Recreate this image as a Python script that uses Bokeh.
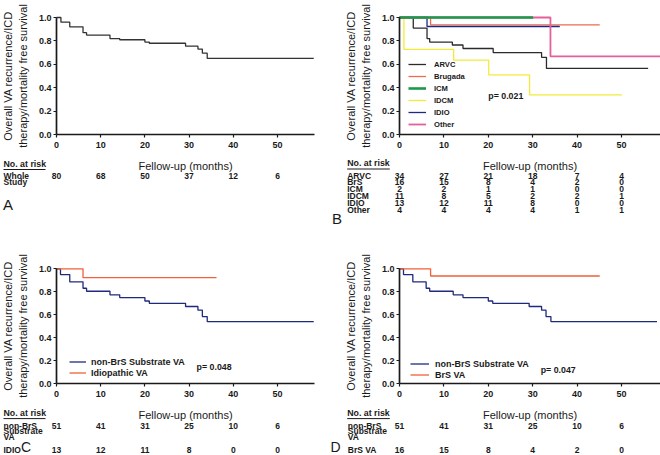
from bokeh.plotting import figure
from bokeh.layouts import column, row
from bokeh.models import (Range1d, FixedTicker, PrintfTickFormatter, Legend, LegendItem,
                          LinearAxis)
from bokeh.core.properties import value
from bokeh.embed import file_html
from bokeh.resources import INLINE

FONT = "Liberation Sans"
INK = "#1a1a1a"

# ---------------- data ----------------
x_ticks = [0, 10, 20, 30, 40, 50]
y_ticks = [0.0, 0.2, 0.4, 0.6, 0.8, 1.0]

# Panel A: whole study
whole_t = [0, 1.0, 3.0, 6.0, 6.8, 12.1, 14.3, 20.0, 21.0, 29.2, 32.0, 33.0, 34.1]
whole_s = [1.0, 0.96, 0.92, 0.87, 0.85, 0.82, 0.81, 0.79, 0.78, 0.755, 0.73, 0.695, 0.65]
whole_end = 58.2
whole_risk = [80, 68, 50, 37, 12, 6]

# Panel B: by aetiology
arvc_t = [0, 3.1, 6.2, 6.8, 11.9, 14.3, 21.1, 32.0, 33.1]
arvc_s = [1.0, 0.91, 0.82, 0.79, 0.765, 0.735, 0.70, 0.66, 0.565]
arvc_end = 56.0
brug_t = [0, 7.0]
brug_s = [1.0, 0.9375]
brug_end = 45.1
icm_t = [0]
icm_s = [1.0]
icm_end = 30.1
idcm_t = [0, 1.0, 12.2, 20.1, 29.3]
idcm_s = [1.0, 0.727, 0.636, 0.509, 0.339]
idcm_end = 50.1
idio_t = [0, 6.2]
idio_s = [1.0, 0.923]
idio_end = 36.1
other_t = [0, 34.0]
other_s = [1.0, 0.667]
other_end = 58.8

groups_b = ["ARVC", "BrS", "ICM", "IDCM", "IDIO", "Other"]
risk_b = [[34, 27, 21, 18, 7, 4],
          [16, 15, 8, 4, 2, 0],
          [2, 2, 1, 1, 0, 0],
          [11, 8, 5, 2, 2, 1],
          [13, 12, 11, 8, 0, 0],
          [4, 4, 4, 4, 1, 1]]

# Panels C and D
nonbrs_t = [0, 0.9, 3.0, 6.0, 6.8, 12.1, 14.3, 20.0, 21.0, 29.2, 32.0, 33.0, 34.1]
nonbrs_s = [1.0, 0.95, 0.887, 0.831, 0.805, 0.774, 0.75, 0.72, 0.70, 0.672, 0.64, 0.585, 0.541]
nonbrs_end_c = 58.2
nonbrs_end_d = 58.0
idiova_t = [0, 6.0]
idiova_s = [1.0, 0.923]
idiova_end = 36.2
brsva_t = [0, 7.0]
brsva_s = [1.0, 0.9375]
brsva_end = 45.1
risk_nonbrs = [51, 41, 31, 25, 10, 6]
risk_idio = [13, 12, 11, 8, 0, 0]
risk_brsva = [16, 15, 8, 4, 2, 0]


# ---------------- helpers ----------------
class Panel:
    """One panel: frame covers the whole figure, axes fixed at the data origin."""

    def __init__(self, w, h, ox, oy, pxm, pyu, x_end):
        self.pxm, self.pyu = pxm, pyu
        self.w, self.h, self.ox, self.oy = w, h, ox, oy
        p = figure(width=w, height=h,
                   x_range=Range1d(-ox / pxm, (w - ox) / pxm),
                   y_range=Range1d(-(h - oy) / pyu, oy / pyu),
                   x_axis_location=None, y_axis_location=None,
                   output_backend="svg", toolbar_location=None,
                   min_border=0)
        p.outline_line_color = None
        p.xgrid.visible = False
        p.ygrid.visible = False
        p.background_fill_color = "white"
        p.border_fill_color = "white"
        xa = LinearAxis(fixed_location=0, bounds=(0, x_end),
                        ticker=FixedTicker(ticks=x_ticks),
                        axis_label="Fellow-up (months)")
        ya = LinearAxis(fixed_location=0, bounds=(0, 1),
                        ticker=FixedTicker(ticks=y_ticks),
                        formatter=PrintfTickFormatter(format="%.1f"),
                        axis_label="Overall VA recurrence/ICD\ntherapy/mortality free survival")
        for ax in (xa, ya):
            ax.axis_line_width = 1.7
            ax.axis_line_color = INK
            ax.major_tick_line_color = INK
            ax.major_tick_line_width = 1.2
            ax.major_tick_out = 3
            ax.major_tick_in = 0
            ax.minor_tick_line_color = None
            ax.major_label_text_font = FONT
            ax.major_label_text_font_style = "bold"
            ax.major_label_text_font_size = "9px"
            ax.major_label_text_color = INK
            ax.axis_label_text_font = FONT
            ax.axis_label_text_font_style = "normal"
            ax.axis_label_text_font_size = "11px"
            ax.axis_label_text_color = INK
        xa.major_label_standoff = 4
        xa.axis_label_standoff = 9
        ya.major_label_standoff = 2
        ya.axis_label_standoff = 7
        ya.axis_label_text_line_height = 1.25
        p.add_layout(xa, "below")
        p.add_layout(ya, "left")
        self.p = p

    def X(self, ref_px):          # px right of the y axis -> months
        return ref_px / self.pxm

    def Y(self, ref_px_below):    # px below the x axis -> survival units
        return -ref_px_below / self.pyu

    def km(self, t, s, end, color, width=1.3):
        xs = list(t) + [end]
        ys = list(s) + [s[-1]]
        return self.p.step(x=xs, y=ys, mode="after", line_color=color, line_width=width)

    def txt(self, text, x, y, size, bold=True, align="left"):
        self.p.text(x=[x], y=[y], text=[text], text_font=value(FONT),
                    text_font_size=value(size),
                    text_font_style="bold" if bold else "normal",
                    text_align=align, text_baseline="middle", text_color=INK)

    def underline(self, x0, x1, y):
        self.p.line(x=[x0, x1], y=[y, y], line_color=INK, line_width=1)

    def legend(self, items, dx, dy, gw, gh, standoff, size):
        leg = Legend(items=[LegendItem(label=l, renderers=[r]) for l, r in items],
                     location=(round(self.ox + dx), round((self.h - self.oy) + dy)),
                     padding=0, margin=0, spacing=0,
                     glyph_width=gw, glyph_height=gh, label_height=gh,
                     label_standoff=standoff, border_line_color=None,
                     background_fill_alpha=0,
                     label_text_font=FONT, label_text_font_style="bold",
                     label_text_font_size=size, label_text_color=INK)
        self.p.add_layout(leg)


TAB = "8.5px"
NAR = "8.8px"
LET = "15px"

# ---------------- Panel A ----------------
A = Panel(330, 236, 56, 134, 4.42, 117, 58.4)
A.km(whole_t, whole_s, whole_end, "#333333")
A.txt("No. at risk", A.X(-53), A.Y(29), NAR)
A.underline(A.X(-53), A.X(-11), A.Y(35))
A.txt("Whole", A.X(-53), A.Y(41), TAB)
A.txt("Study", A.X(-53), A.Y(47.5), TAB)
for m, v in zip(x_ticks, whole_risk):
    A.txt(str(v), m, A.Y(41), TAB, align="center")
A.txt("A", A.X(-53.5), A.Y(69.5), LET, bold=False)

# ---------------- Panel B ----------------
B = Panel(330, 236, 69, 134, 4.44, 117, 58.8)
r_arvc = B.km(arvc_t, arvc_s, arvc_end, "#2b2b2b")
r_brug = B.km(brug_t, brug_s, brug_end, "#ee6a50")
r_idcm = B.km(idcm_t, idcm_s, idcm_end, "#f2ea3a")
r_idio = B.km(idio_t, idio_s, idio_end, "#1c2a80")
r_other = B.km(other_t, other_s, other_end, "#e5609a", 1.8)
r_icm = B.km(icm_t, icm_s, icm_end, "#1a9a4a", 2.6)
B.legend([("ARVC", r_arvc), ("Brugada", r_brug), ("ICM", r_icm),
          ("IDCM", r_idcm), ("IDIO", r_idio), ("Other", r_other)],
         9.3, 4, 18, 12, 8, "7.6px")
B.txt("p= 0.021", 20.0, 0.333, "8.8px")
B.txt("No. at risk", B.X(-52.3), B.Y(28.5), NAR)
B.underline(B.X(-52.3), B.X(-9.7), B.Y(34.5))
for i, (g, vals) in enumerate(zip(groups_b, risk_b)):
    yy = B.Y(41 + 6.8 * i)
    B.txt(g, B.X(-52.3), yy, TAB)
    for m, v in zip(x_ticks, vals):
        B.txt(str(v), m, yy, TAB, align="center")
B.txt("B", B.X(-67.5), B.Y(84), LET, bold=False)

# ---------------- Panel C ----------------
C = Panel(330, 219, 56, 147.3, 4.42, 115, 58.4)
r_nb = C.km(nonbrs_t, nonbrs_s, nonbrs_end_c, "#1f2a7c")
r_iv = C.km(idiova_t, idiova_s, idiova_end, "#f0603a")
C.legend([("non-BrS Substrate VA", r_nb), ("Idiopathic VA", r_iv)],
         13, 5, 17, 11, 5, "9px")
C.txt("p= 0.048", 31.7, 0.142, "8.8px")
C.txt("No. at risk", C.X(-53), C.Y(29.4), NAR)
C.underline(C.X(-53), C.X(-11), C.Y(34.8))
C.txt("non-BrS", C.X(-53), C.Y(41.7), TAB)
C.txt("Substrate", C.X(-53), C.Y(47.4), TAB)
C.txt("VA", C.X(-53), C.Y(53.1), TAB)
C.txt("IDIO", C.X(-53), C.Y(66), TAB)
for m, v1, v2 in zip(x_ticks, risk_nonbrs, risk_idio):
    C.txt(str(v1), m, C.Y(41.7), TAB, align="center")
    C.txt(str(v2), m, C.Y(66), TAB, align="center")
C.txt("C", C.X(-35.5), C.Y(63.5), "14px", bold=False)

# ---------------- Panel D ----------------
D = Panel(330, 219, 69, 147.3, 4.44, 115, 58.8)
r_nb2 = D.km(nonbrs_t, nonbrs_s, nonbrs_end_d, "#1f2a7c")
r_bv = D.km(brsva_t, brsva_s, brsva_end, "#f0603a")
D.legend([("non-BrS Substrate VA", r_nb2), ("BrS VA", r_bv)],
         11, 3.8, 19, 11, 6, "9px")
D.txt("p= 0.047", 31.8, 0.124, "8.8px")
D.txt("No. at risk", D.X(-52.3), D.Y(29.4), NAR)
D.underline(D.X(-52.3), D.X(-9.7), D.Y(34.8))
D.txt("non-BrS", D.X(-51.7), D.Y(41.7), TAB)
D.txt("Substrate", D.X(-51.7), D.Y(47.4), TAB)
D.txt("VA", D.X(-51.7), D.Y(53.1), TAB)
D.txt("BrS VA", D.X(-51.7), D.Y(66), TAB)
for m, v1, v2 in zip(x_ticks, risk_nonbrs, risk_brsva):
    D.txt(str(v1), m, D.Y(41.7), TAB, align="center")
    D.txt(str(v2), m, D.Y(66), TAB, align="center")
D.txt("D", D.X(-69), D.Y(63.5), "14px", bold=False)

layout = column(row(A.p, B.p), row(C.p, D.p))
open("out.html", "w").write(file_html(layout, INLINE))
